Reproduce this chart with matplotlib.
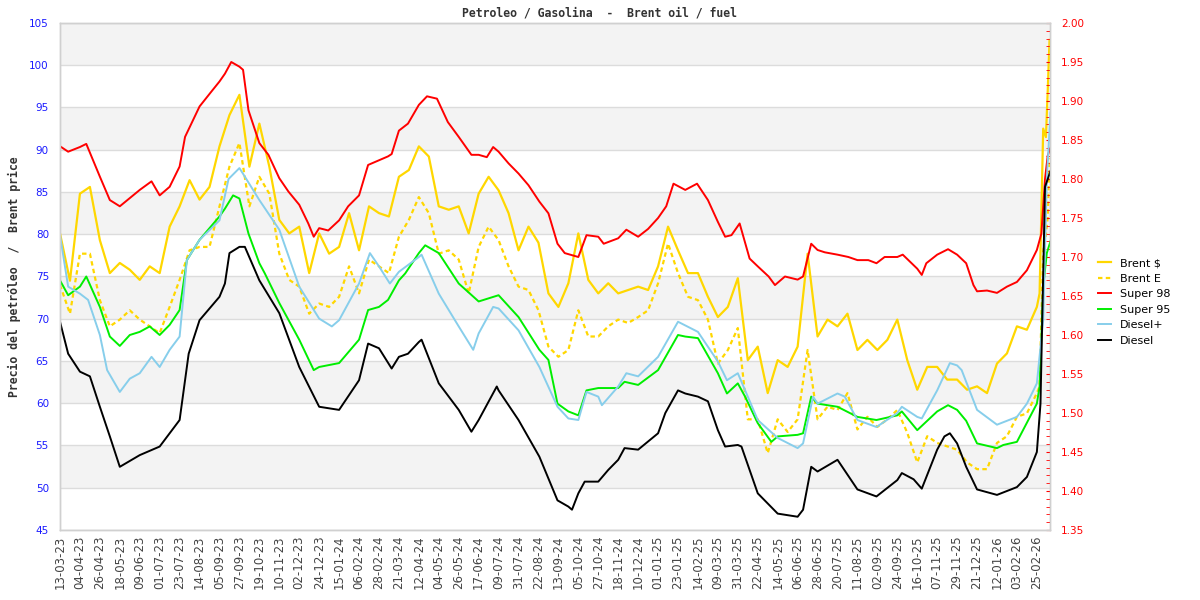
import matplotlib
matplotlib.use("Agg")
import matplotlib.pyplot as plt

# ---------------- data ----------------
tick_labels = ["13-03-23", "04-04-23", "26-04-23", "18-05-23", "09-06-23", "01-07-23", "23-07-23",
               "14-08-23", "05-09-23", "27-09-23", "19-10-23", "10-11-23", "02-12-23", "24-12-23",
               "15-01-24", "06-02-24", "28-02-24", "21-03-24", "12-04-24", "04-05-24", "26-05-24",
               "17-06-24", "09-07-24", "31-07-24", "22-08-24", "13-09-24", "05-10-24", "27-10-24",
               "18-11-24", "10-12-24", "01-01-25", "23-01-25", "14-02-25", "09-03-25", "31-03-25",
               "22-04-25", "14-05-25", "06-06-25", "28-06-25", "20-07-25", "11-08-25", "02-09-25",
               "24-09-25", "16-10-25", "07-11-25", "29-11-25", "21-12-25", "12-01-26", "03-02-26",
               "25-02-26"]
tick_pos = [22 * i for i in range(len(tick_labels))]

brent_days = list(range(0, 1079, 11)) + [1081, 1085, 1088, 1090, 1092]
brent_usd = [80.1, 74.5, 84.8, 85.6, 79.3, 75.4, 76.6, 75.8, 74.6, 76.2,
             75.4, 80.9, 83.3, 86.4, 84.1, 85.6, 90.4, 94.1, 96.5, 88.0,
             93.1, 88.0, 81.7, 80.1, 80.9, 75.4, 80.1, 77.7, 78.5, 82.5,
             78.1, 83.3, 82.5, 82.1, 86.8, 87.6, 90.4, 89.2, 83.3, 82.9,
             83.3, 80.1, 84.8, 86.8, 85.2, 82.5, 78.1, 80.9, 79.0, 73.0,
             71.4, 74.2, 80.1, 74.6, 73.0, 74.2, 73.0, 73.4, 73.8, 73.4,
             76.2, 80.9, 78.1, 75.4, 75.4, 72.6, 70.2, 71.4, 74.8, 65.1,
             66.7, 61.2, 65.1, 64.3, 66.7, 77.7, 67.9, 69.9, 69.1, 70.6,
             66.3, 67.5, 66.3, 67.5, 69.9, 65.1, 61.6, 64.3, 64.3, 62.8,
             62.8, 61.6, 62.0, 61.2, 64.7, 65.9, 69.1, 68.7, 71.4,
             73.0, 92.5, 91.5, 97.0, 103.0]
brent_eur = [74.0, 70.6, 77.7, 77.7, 72.2, 69.1, 69.9, 71.0, 69.9, 69.1,
             68.3, 71.4, 74.6, 78.1, 78.5, 78.5, 83.3, 88.0, 90.8, 83.3,
             86.8, 84.8, 77.7, 74.6, 73.8, 70.6, 71.8, 71.4, 72.6, 76.2,
             73.0, 77.0, 76.2, 75.4, 79.7, 81.7, 84.4, 82.5, 77.7, 78.1,
             77.0, 73.0, 78.5, 80.9, 79.3, 76.2, 73.8, 73.4, 71.0, 66.7,
             65.5, 66.3, 71.0, 67.9, 67.9, 69.1, 69.9, 69.5, 70.2, 71.0,
             74.2, 78.9, 75.4, 72.6, 72.2, 69.9, 64.7, 66.3, 68.9, 58.1,
             58.1, 54.1, 58.1, 56.6, 58.1, 66.3, 58.1, 59.6, 59.2, 61.2,
             56.9, 58.4, 57.2, 58.1, 59.2, 56.5, 53.0, 56.1, 55.3, 54.9,
             54.5, 53.0, 52.2, 52.2, 55.3, 56.1, 58.4, 58.8, 61.2,
             62.0, 78.0, 80.0, 82.0, 89.0]

super98 = [(0, 1.842), (9, 1.835), (22, 1.841), (29, 1.845), (44, 1.803), (55, 1.773), (66, 1.765),
           (88, 1.786), (101, 1.797), (110, 1.779), (121, 1.790), (132, 1.816), (138, 1.854),
           (154, 1.893), (167, 1.912), (176, 1.925), (182, 1.935), (189, 1.950), (198, 1.944),
           (202, 1.940), (208, 1.888), (220, 1.846), (230, 1.831), (242, 1.801), (252, 1.784),
           (264, 1.767), (274, 1.743), (280, 1.726), (286, 1.737), (296, 1.734), (308, 1.747),
           (318, 1.765), (330, 1.779), (340, 1.818), (352, 1.824), (362, 1.829), (366, 1.832),
           (374, 1.862), (384, 1.871), (396, 1.895), (405, 1.906), (416, 1.903), (428, 1.873),
           (440, 1.854), (454, 1.831), (462, 1.831), (471, 1.828), (478, 1.841), (484, 1.835),
           (495, 1.820), (506, 1.807), (517, 1.792), (529, 1.771), (539, 1.756), (549, 1.717),
           (557, 1.705), (572, 1.700), (581, 1.728), (594, 1.726), (600, 1.717), (616, 1.724),
           (625, 1.735), (638, 1.726), (649, 1.736), (660, 1.750), (669, 1.765), (677, 1.794),
           (690, 1.786), (703, 1.794), (715, 1.773), (726, 1.745), (734, 1.726), (741, 1.728),
           (750, 1.743), (761, 1.698), (770, 1.688), (782, 1.675), (789, 1.664), (800, 1.675),
           (814, 1.671), (820, 1.675), (829, 1.717), (836, 1.709), (844, 1.706), (858, 1.703),
           (870, 1.700), (880, 1.696), (892, 1.696), (901, 1.692), (910, 1.700), (924, 1.700),
           (930, 1.703), (946, 1.685), (951, 1.677), (956, 1.692), (968, 1.703), (980, 1.710),
           (990, 1.703), (1000, 1.692), (1008, 1.664), (1012, 1.656), (1023, 1.657), (1034, 1.654),
           (1045, 1.662), (1056, 1.668), (1067, 1.683), (1078, 1.709), (1083, 1.730), (1087, 1.800),
           (1090, 1.830), (1093, 1.840)]

super95 = [(0, 1.670), (9, 1.651), (22, 1.662), (29, 1.675), (44, 1.636), (55, 1.598), (66, 1.586),
           (77, 1.600), (88, 1.604), (99, 1.611), (110, 1.600), (121, 1.613), (132, 1.632),
           (140, 1.696), (154, 1.722), (165, 1.737), (176, 1.752), (182, 1.762), (191, 1.779),
           (198, 1.775), (208, 1.730), (220, 1.692), (226, 1.679), (242, 1.641), (264, 1.594),
           (280, 1.555), (286, 1.559), (308, 1.564), (330, 1.594), (340, 1.632), (352, 1.636),
           (362, 1.645), (374, 1.670), (381, 1.679), (396, 1.705), (403, 1.715), (418, 1.705),
           (440, 1.666), (462, 1.643), (484, 1.651), (506, 1.623), (529, 1.581), (539, 1.568),
           (549, 1.512), (561, 1.502), (572, 1.497), (581, 1.529), (594, 1.532), (616, 1.532),
           (623, 1.540), (638, 1.536), (660, 1.555), (682, 1.600), (690, 1.598), (704, 1.596),
           (726, 1.551), (736, 1.525), (748, 1.538), (756, 1.521), (770, 1.487), (785, 1.463),
           (792, 1.470), (814, 1.472), (820, 1.474), (829, 1.521), (836, 1.512), (858, 1.508),
           (880, 1.495), (901, 1.491), (924, 1.497), (929, 1.502), (946, 1.478), (968, 1.502),
           (980, 1.510), (990, 1.504), (1000, 1.490), (1012, 1.461), (1034, 1.455), (1041, 1.459),
           (1056, 1.463), (1078, 1.512), (1081, 1.534), (1085, 1.662), (1089, 1.705), (1093, 1.720)]

diesel_plus = [(0, 1.728), (9, 1.662), (22, 1.653), (31, 1.645), (44, 1.600), (52, 1.555), (66, 1.527),
               (77, 1.544), (88, 1.551), (101, 1.572), (110, 1.559), (121, 1.581), (132, 1.598),
               (140, 1.696), (154, 1.722), (176, 1.747), (186, 1.800), (198, 1.814), (204, 1.803),
               (220, 1.773), (242, 1.735), (264, 1.662), (286, 1.621), (300, 1.611), (308, 1.619),
               (330, 1.666), (342, 1.705), (352, 1.688), (364, 1.666), (374, 1.681), (396, 1.700),
               (399, 1.703), (418, 1.653), (440, 1.611), (456, 1.581), (462, 1.602), (478, 1.636),
               (484, 1.634), (506, 1.606), (529, 1.559), (549, 1.508), (561, 1.493), (572, 1.491),
               (581, 1.527), (594, 1.521), (598, 1.510), (616, 1.534), (625, 1.551), (638, 1.547),
               (660, 1.572), (682, 1.617), (704, 1.604), (726, 1.566), (736, 1.542), (748, 1.551),
               (770, 1.491), (792, 1.468), (814, 1.455), (820, 1.461), (831, 1.521), (836, 1.512),
               (858, 1.525), (866, 1.521), (880, 1.491), (901, 1.482), (924, 1.500), (929, 1.508),
               (946, 1.495), (951, 1.493), (968, 1.529), (982, 1.564), (990, 1.561), (995, 1.555),
               (1012, 1.504), (1034, 1.485), (1056, 1.495), (1067, 1.512), (1078, 1.538),
               (1085, 1.619), (1089, 1.800), (1093, 1.885)]

diesel = [(0, 1.617), (9, 1.576), (22, 1.553), (33, 1.547), (44, 1.508), (55, 1.470), (66, 1.431),
          (88, 1.446), (110, 1.457), (132, 1.491), (142, 1.576), (154, 1.619), (176, 1.649),
          (182, 1.666), (187, 1.705), (198, 1.713), (204, 1.713), (220, 1.670), (242, 1.628),
          (264, 1.559), (286, 1.508), (308, 1.504), (330, 1.542), (340, 1.589), (352, 1.583),
          (366, 1.557), (374, 1.572), (384, 1.576), (396, 1.591), (399, 1.594), (418, 1.538),
          (440, 1.504), (454, 1.476), (462, 1.491), (482, 1.534), (484, 1.529), (506, 1.491),
          (529, 1.444), (549, 1.388), (561, 1.380), (565, 1.376), (572, 1.397), (579, 1.412),
          (594, 1.412), (605, 1.427), (616, 1.440), (623, 1.455), (638, 1.453), (660, 1.474),
          (668, 1.500), (682, 1.529), (690, 1.525), (704, 1.521), (715, 1.515), (726, 1.478),
          (734, 1.457), (748, 1.459), (752, 1.457), (770, 1.397), (792, 1.371), (814, 1.367),
          (820, 1.376), (829, 1.431), (836, 1.425), (858, 1.440), (880, 1.402), (901, 1.393),
          (924, 1.414), (929, 1.423), (942, 1.415), (951, 1.403), (968, 1.453), (976, 1.470),
          (982, 1.474), (990, 1.461), (1000, 1.431), (1012, 1.402), (1034, 1.395), (1056, 1.405),
          (1067, 1.418), (1078, 1.450), (1082, 1.512), (1087, 1.790), (1093, 1.810)]

left_ticks = [45, 50, 55, 60, 65, 70, 75, 80, 85, 90, 95, 100, 105]
right_ticks = [1.35, 1.40, 1.45, 1.50, 1.55, 1.60, 1.65, 1.70, 1.75, 1.80, 1.85, 1.90, 1.95, 2.00]

# ---------------- figure ----------------
fig = plt.figure(figsize=(12, 6), dpi=100)
ax = fig.add_axes([0.05, 0.11667, 0.825, 0.845])
ax2 = ax.twinx()

# alternating bands + grid
for i in range(len(left_ticks) - 1):
    if i % 2 == 1:
        ax.axhspan(left_ticks[i], left_ticks[i + 1], color="#f3f3f3", zorder=0, lw=0)
for t in left_ticks:
    ax.axhline(t, color="#dcdcdc", lw=1, zorder=0.5)

gold = "#FFD700"
l1, = ax.plot(brent_days, brent_usd, color=gold, lw=1.6, zorder=3, label="Brent $")
l2, = ax.plot(brent_days, brent_eur, color=gold, lw=1.6, ls=(0, (2, 1.5)), zorder=3, label="Brent E")

def unzip(pairs):
    return [p[0] for p in pairs], [p[1] for p in pairs]

x, y = unzip(super98)
l3, = ax2.plot(x, y, color="#FF0000", lw=1.4, label="Super 98")
x, y = unzip(super95)
l4, = ax2.plot(x, y, color="#00EE00", lw=1.4, label="Super 95")
x, y = unzip(diesel_plus)
l5, = ax2.plot(x, y, color="#87CEEB", lw=1.4, label="Diesel+")
x, y = unzip(diesel)
l6, = ax2.plot(x, y, color="#000000", lw=1.4, label="Diesel")

ax.set_xlim(0, 1092.5)
ax.set_ylim(45, 105)
ax2.set_ylim(1.35, 2.00)

ax.set_yticks(left_ticks)
ax.set_yticklabels([str(t) for t in left_ticks])
ax.tick_params(axis="y", length=0, labelsize=7.5, labelcolor="#1a1aff", pad=8)
ax.set_xticks(tick_pos)
ax.set_xticklabels(tick_labels, rotation=90)
ax.tick_params(axis="x", length=0, labelsize=8.5, labelcolor="#444444", pad=4)

ax2.set_yticks(right_ticks)
ax2.set_yticklabels(["%.2f" % t for t in right_ticks])
ax2.set_yticks([1.35 + 0.01 * i for i in range(66)], minor=True)
ax2.tick_params(axis="y", which="both", direction="in", length=3, color="#ff0000",
                labelsize=7.5, labelcolor="#ff0000", pad=8)
ax2.tick_params(axis="y", which="minor", labelright=False)

for a in (ax, ax2):
    for s in a.spines.values():
        s.set_color("#d0d0d0")
        s.set_linewidth(1)

fig.text(0.5, 0.978, "Petroleo / Gasolina  -  Brent oil / fuel", ha="center", va="center",
         family="DejaVu Sans Mono", weight="bold", fontsize=8.3, color="#333333")
ax.set_ylabel("Precio del petróleo  /  Brent price", family="DejaVu Sans Mono", weight="bold",
              fontsize=8.3, color="#333333")
ax.yaxis.set_label_coords(-0.039, 0.5)

handles = [l1, l2, l3, l4, l5, l6]
fig.legend(handles, [h.get_label() for h in handles], loc="upper left",
           bbox_to_anchor=(1088 / 1200, 1 - 248 / 600), frameon=False, fontsize=8,
           handlelength=1.2, handletextpad=0.8, labelspacing=0.5)

fig.savefig("out.png", dpi=100)
